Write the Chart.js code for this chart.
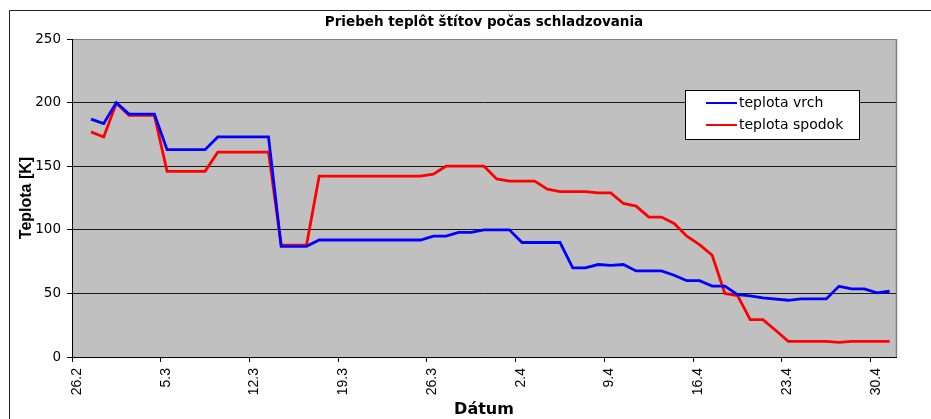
<!DOCTYPE html>
<html>
<head>
<meta charset="utf-8">
<script src="https://cdn.jsdelivr.net/npm/chart.js@4/dist/chart.umd.min.js"></script>
<style>
  html, body { margin: 0; padding: 0; background: #fff; }
  canvas { display: block; }
</style>
</head>
<body>
<canvas id="chart" width="931" height="419"></canvas>
<script>
const chartTitle = 'Priebeh teplôt štítov počas schladzovania';
const tickLabels = ['26.2', '5.3', '12.3', '19.3', '26.3', '2.4', '9.4', '16.4', '23.4', '30.4'];

const vrchDates = ['27.2', '28.2', '1.3', '2.3', '4.3', '5.3', '8.3', '9.3', '13.3', '14.3', '16.3', '17.3',
  '25.3', '26.3', '27.3', '28.3', '29.3', '30.3', '1.4', '2.4', '5.4', '6.4', '7.4', '8.4', '9.4', '10.4',
  '11.4', '13.4', '14.4', '15.4', '16.4', '17.4', '18.4', '19.4', '20.4', '21.4', '23.4', '24.4', '26.4',
  '27.4', '28.4', '29.4', '30.4', '1.5'];
const vrchValues = [187, 183.5, 200, 191, 191, 163, 163, 173, 173, 87, 87, 92,
  92, 95, 95, 98, 98, 100, 100, 90, 90, 70, 70, 72.7, 72, 72.7,
  67.7, 67.7, 64.3, 60, 60, 55.7, 55.7, 49, 48, 46.4, 44.6, 45.7, 45.7,
  55.6, 53.5, 53.5, 50.4, 51.7];

const spodokDates = ['27.2', '28.2', '1.3', '2.3', '4.3', '5.3', '8.3', '9.3', '13.3', '14.3', '16.3', '17.3',
  '25.3', '26.3', '27.3', '30.3', '31.3', '1.4', '3.4', '4.4', '5.4', '7.4', '8.4', '9.4', '10.4', '11.4',
  '12.4', '13.4', '14.4', '15.4', '16.4', '17.4', '18.4', '19.4', '20.4', '21.4', '22.4', '23.4', '26.4',
  '27.4', '28.4', '1.5'];
const spodokValues = [177, 173, 199.5, 190, 190, 146, 146, 161, 161, 88, 88, 142.2,
  142.2, 143.8, 150, 150, 140, 138.3, 138.3, 132, 130, 130, 129, 129, 120.7, 118.6,
  110, 110, 105, 95, 88.4, 80, 50, 48.3, 29.4, 29.4, 21, 12.3, 12.3,
  11.5, 12.3, 12.3];

// days counted from 26.2 (February has 28 days)
const monthStart = { 2: -26, 3: 2, 4: 33, 5: 63 };
function dayIndex(s) {
  const [d, m] = s.split('.').map(Number);
  return monthStart[m] + d;
}
// Excel date axis: each point sits in the middle of its day
const toPoints = (dates, values) => dates.map((d, i) => ({ x: dayIndex(d) + 0.5, y: values[i] }));

const horizFont = '"DejaVu Sans", sans-serif';
const vertFont = '"Liberation Sans", Arial, sans-serif';

const frame = {
  id: 'frame',
  beforeDraw(chart) {
    const { ctx, chartArea: a } = chart;
    ctx.save();
    ctx.fillStyle = '#fff';
    ctx.fillRect(0, 0, chart.width, chart.height);
    ctx.fillStyle = '#c0c0c0';
    ctx.fillRect(a.left, a.top, a.right - a.left, a.bottom - a.top);
    ctx.strokeStyle = '#222';
    ctx.lineWidth = 1;
    ctx.beginPath();
    ctx.moveTo(9.5, chart.height);
    ctx.lineTo(9.5, 10.5);
    ctx.lineTo(chart.width, 10.5);
    ctx.stroke();
    ctx.fillStyle = '#000';
    ctx.font = 'bold 13.5px ' + horizFont;
    ctx.textAlign = 'center';
    ctx.textBaseline = 'middle';
    ctx.fillText(chartTitle, (a.left + a.right) / 2, 22);
    ctx.restore();
  },
  beforeDatasetsDraw(chart) {
    const { ctx, chartArea: a } = chart;
    ctx.save();
    ctx.strokeStyle = '#808080';
    ctx.lineWidth = 1.5;
    ctx.beginPath();
    ctx.moveTo(a.right + 0.5, a.top);
    ctx.lineTo(a.right + 0.5, a.bottom);
    ctx.stroke();
    ctx.restore();
  },
  afterDraw(chart) {
    const { ctx } = chart;
    ctx.save();
    ctx.fillStyle = '#fff';
    ctx.strokeStyle = '#000';
    ctx.lineWidth = 1;
    ctx.fillRect(685.5, 90.5, 174, 49);
    ctx.strokeRect(685.5, 90.5, 174, 49);
    ctx.font = '14px ' + horizFont;
    ctx.textAlign = 'left';
    ctx.textBaseline = 'middle';
    chart.data.datasets.forEach((ds, i) => {
      const y = 103 + i * 22;
      ctx.strokeStyle = ds.borderColor;
      ctx.lineWidth = 2;
      ctx.beginPath();
      ctx.moveTo(706, y);
      ctx.lineTo(737, y);
      ctx.stroke();
      ctx.fillStyle = '#000';
      ctx.fillText(ds.label, 739, y);
    });
    ctx.restore();
  }
};

new Chart(document.getElementById('chart'), {
  type: 'line',
  data: {
    datasets: [
      {
        label: 'teplota vrch',
        data: toPoints(vrchDates, vrchValues),
        borderColor: '#0000ff',
        borderWidth: 2.8,
        pointRadius: 0,
        tension: 0
      },
      {
        label: 'teplota spodok',
        data: toPoints(spodokDates, spodokValues),
        borderColor: '#ff0000',
        borderWidth: 2.8,
        pointRadius: 0,
        tension: 0
      }
    ]
  },
  options: {
    responsive: false,
    animation: false,
    layout: { padding: { top: 39, right: 35, left: 0, bottom: 0 } },
    plugins: {
      legend: { display: false },
      title: { display: false },
      tooltip: { enabled: false }
    },
    scales: {
      x: {
        type: 'linear',
        min: 0,
        max: 65,
        afterBuildTicks: s => { s.ticks = tickLabels.map((_, i) => ({ value: i * 7 })); },
        afterFit: s => { s.height = 62; },
        ticks: {
          autoSkip: false,
          minRotation: 90,
          maxRotation: 90,
          padding: 6,
          labelOffset: 5,
          color: '#000',
          font: { family: vertFont, size: 14 },
          callback: v => tickLabels[Math.round(v / 7)]
        },
        grid: { drawOnChartArea: false, drawTicks: true, tickLength: 5, color: '#000' },
        border: { color: '#000', width: 1 },
        title: {
          display: true,
          text: 'Dátum',
          color: '#000',
          font: { family: horizFont, size: 16, weight: 'bold', lineHeight: 1 },
          padding: { top: 0, bottom: 1 }
        }
      },
      y: {
        min: 0,
        max: 250,
        afterFit: s => { s.width = 72; },
        ticks: {
          stepSize: 50,
          padding: 6,
          color: '#000',
          font: { family: horizFont, size: 13.5 }
        },
        grid: {
          color: c => (c.tick && c.tick.value === 250 ? '#808080' : '#1a1a1a'),
          tickColor: '#000',
          tickLength: 5,
          lineWidth: 1
        },
        border: { color: '#000', width: 1 },
        title: {
          display: true,
          text: 'Teplota [K]',
          color: '#000',
          font: { family: vertFont, size: 16, weight: 'bold', lineHeight: 1.2 },
          padding: { top: 17, bottom: 0 }
        }
      }
    }
  },
  plugins: [frame]
});
</script>
</body>
</html>
